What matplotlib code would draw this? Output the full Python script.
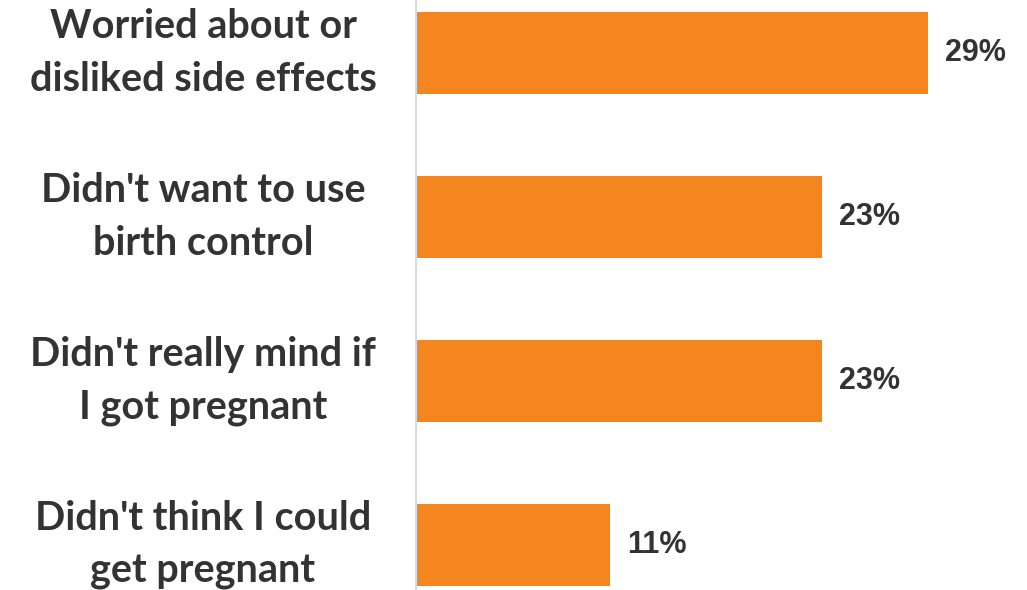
import numpy as np
import matplotlib
matplotlib.use('Agg')
import matplotlib.pyplot as plt

categories = [
    "Worried about or\ndisliked side effects",
    "Didn't want to use\nbirth control",
    "Didn't really mind if\nI got pregnant",
    "Didn't think I could\nget pregnant",
]
values = [29, 23, 23, 11]
value_labels = ["29%", "23%", "23%", "11%"]

BAR_COLOR = '#F5851F'
TEXT_COLOR = '#333333'

W, H = 1027, 590
fig = plt.figure(figsize=(W / 100, H / 100), dpi=100)
ax = fig.add_axes([416 / W, 0, 1 - 416 / W, 1])

y = np.arange(len(values))
ax.barh(y, values, height=0.5, color=BAR_COLOR)
ax.set_xlim(0, (W - 416) / 17.65)
ax.set_ylim(3.274, -0.323)

for yi, v, lab in zip(y, values, value_labels):
    ax.annotate(lab, (v, yi), xytext=(12, 0), textcoords='offset points',
                ha='left', va='center', fontsize=22, fontweight='bold',
                family='Liberation Sans', color=TEXT_COLOR)

# category labels in figure coords, centered to the left of the axis
for yi, cat in zip(y, categories):
    yfig = ax.transData.transform((0, yi))[1]
    xfig = 203
    fig.text(xfig / W, yfig / H, cat, ha='center', va='center',
             multialignment='center', fontsize=28.5, fontweight='bold',
             family='Lato', color=TEXT_COLOR, linespacing=1.52)

ax.set_xticks([])
ax.set_yticks([])
for s in ['top', 'right', 'bottom']:
    ax.spines[s].set_visible(False)
ax.spines['left'].set_color('#d9d9d9')
ax.spines['left'].set_linewidth(1.5)

fig.savefig('out.png', dpi=100)
